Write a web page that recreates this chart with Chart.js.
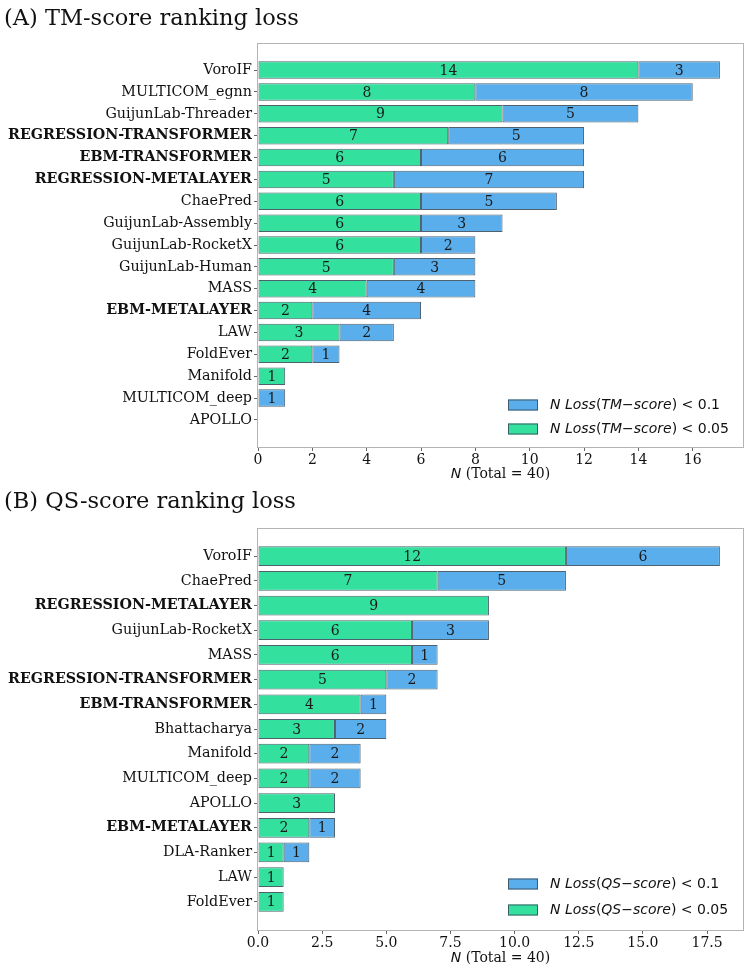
<!DOCTYPE html>
<html><head><meta charset="utf-8">
<script src="https://cdn.jsdelivr.net/npm/chart.js@4.4.0/dist/chart.umd.min.js"></script>
<style>html,body{margin:0;padding:0;background:#fff;width:749px;height:970px;overflow:hidden}canvas{display:block}</style>
</head><body>
<canvas id="c1" width="749" height="484"></canvas>
<canvas id="c2" width="749" height="486"></canvas>
<script>
const methodsTM = ['VoroIF','MULTICOM_egnn','GuijunLab-Threader','REGRESSION-TRANSFORMER','EBM-TRANSFORMER','REGRESSION-METALAYER','ChaePred','GuijunLab-Assembly','GuijunLab-RocketX','GuijunLab-Human','MASS','EBM-METALAYER','LAW','FoldEver','Manifold','MULTICOM_deep','APOLLO'];
const tmLossBelow005 = [14,8,9,7,6,5,6,6,6,5,4,2,3,2,1,0,0];
const tmLossBelow01Extra = [3,8,5,5,6,7,5,3,2,3,4,4,2,1,0,1,0];

const methodsQS = ['VoroIF','ChaePred','REGRESSION-METALAYER','GuijunLab-RocketX','MASS','REGRESSION-TRANSFORMER','EBM-TRANSFORMER','Bhattacharya','Manifold','MULTICOM_deep','APOLLO','EBM-METALAYER','DLA-Ranker','LAW','FoldEver'];
const qsLossBelow005 = [12,7,9,6,6,5,4,3,2,2,3,2,1,1,1];
const qsLossBelow01Extra = [6,5,0,3,1,2,1,2,2,2,0,1,1,0,0];

const xTicksTM = [0,2,4,6,8,10,12,14,16];
const xTicksQS = [0,2.5,5,7.5,10,12.5,15,17.5];
const highlighted = ['REGRESSION-TRANSFORMER','EBM-TRANSFORMER','REGRESSION-METALAYER','EBM-METALAYER'];

const GREEN = 'rgb(52,224,158)';
const BLUE = 'rgb(90,174,235)';
const EDGE = 'rgba(60,80,95,0.9)';
const SERIF = '"DejaVu Serif", serif';
const SANS = '"DejaVu Sans", sans-serif';

function drawSegments(ctx, segs, x, y, size) {
  let cx = x;
  for (const [t, italic] of segs) {
    ctx.font = (italic ? 'italic ' : '') + size + 'px ' + SANS;
    ctx.fillText(t, cx, y);
    cx += ctx.measureText(t).width;
  }
}

function makeChart(canvasId, cfg) {
  const names = cfg.names;
  const n = names.length;
  const yMin = -0.4 - 0.05 * (n - 1 + 0.8);
  const yMax = (n - 1) + 0.4 + 0.05 * (n - 1 + 0.8);
  const plugin = {
    id: 'extras',
    afterDatasetsDraw(chart) {
      const ctx = chart.ctx;
      ctx.save();
      ctx.font = '14px ' + SERIF;
      ctx.fillStyle = '#1a1a1a';
      ctx.textAlign = 'center';
      ctx.textBaseline = 'middle';
      chart.data.datasets.forEach((ds, di) => {
        const meta = chart.getDatasetMeta(di);
        meta.data.forEach((el, i) => {
          const v = ds.data[i].x;
          if (v > 0) ctx.fillText(String(v), (el.x + el.base) / 2, el.y + 1);
        });
      });
      ctx.restore();
    },
    afterDraw(chart) {
      const ctx = chart.ctx;
      const a = chart.chartArea;
      ctx.save();
      // frame
      ctx.strokeStyle = '#b4b4b4';
      ctx.lineWidth = 1;
      ctx.strokeRect(Math.round(a.left) - 0.5, Math.round(a.top) + 0.5, Math.round(a.right - a.left) + 1, Math.round(a.bottom - a.top));
      // title
      ctx.fillStyle = '#111';
      ctx.textAlign = 'left';
      ctx.textBaseline = 'alphabetic';
      ctx.font = '22.5px ' + SERIF;
      ctx.fillText(cfg.title, 4, cfg.titleY);
      // x label
      ctx.textBaseline = 'middle';
      ctx.font = 'italic 14px ' + SANS;
      const w1 = ctx.measureText('N').width;
      ctx.font = '14px ' + SERIF;
      const rest = ' (Total = 40)';
      const w2 = ctx.measureText(rest).width;
      const cx = (a.left + a.right) / 2 - (w1 + w2) / 2;
      const ly = a.bottom + cfg.xLabelOff;
      ctx.font = 'italic 14px ' + SANS;
      ctx.fillText('N', cx, ly);
      ctx.font = '14px ' + SERIF;
      ctx.fillText(rest, cx + w1, ly);
      // legend
      const items = [
        {color: BLUE, segs: [['N Loss', true], ['(', false], [cfg.scoreA, true], ['\u2212', false], ['score', true], [') < 0.1', false]]},
        {color: GREEN, segs: [['N Loss', true], ['(', false], [cfg.scoreA, true], ['\u2212', false], ['score', true], [') < 0.05', false]]}
      ];
      items.forEach((it, k) => {
        const y = a.bottom - cfg.legendOffsets[k];
        ctx.fillStyle = it.color;
        ctx.fillRect(a.right - 235, y - 5.5, 30, 11);
        ctx.strokeStyle = EDGE;
        ctx.strokeRect(a.right - 235 + 0.5, y - 5.5 + 0.5, 29, 10);
        ctx.fillStyle = '#111';
        drawSegments(ctx, it.segs, a.right - 193, y, 14);
      });
      ctx.restore();
    }
  };
  return new Chart(document.getElementById(canvasId), {
    type: 'bar',
    data: {
      datasets: [
        {label: 'N Loss(' + cfg.scoreA + '-score) < 0.05', data: names.map((_, i) => ({x: cfg.green[i], y: i})), backgroundColor: GREEN},
        {label: 'N Loss(' + cfg.scoreA + '-score) < 0.1', data: names.map((_, i) => ({x: cfg.blue[i], y: i})), backgroundColor: BLUE}
      ]
    },
    options: {
      indexAxis: 'y',
      responsive: false,
      animation: false,
      events: [],
      layout: {padding: {top: cfg.padTop, right: 6, bottom: 0, left: 0}},
      datasets: {bar: {categoryPercentage: 1, barPercentage: 0.8, borderColor: EDGE, borderSkipped: false,
        borderWidth: (c) => (c.raw && c.raw.x === 0 ? 0 : 1)}},
      plugins: {legend: {display: false}, title: {display: false}, tooltip: {enabled: false}},
      scales: {
        x: {
          type: 'linear', min: 0, max: cfg.xMax, stacked: true, offset: false,
          afterBuildTicks: (s) => { s.ticks = cfg.xTicks.map(v => ({value: v})); },
          afterFit: (s) => { s.height = cfg.xAxisH; },
          grid: {drawOnChartArea: false, tickLength: 4, color: '#666', offset: false},
          border: {display: false},
          ticks: {callback: (v) => cfg.decimals ? v.toFixed(1) : String(v), font: {family: SERIF, size: 14}, color: '#111', padding: 1, maxRotation: 0, autoSkip: false}
        },
        y: {
          type: 'linear', reverse: true, min: yMin, max: yMax, stacked: true, offset: false,
          afterBuildTicks: (s) => { s.ticks = names.map((_, i) => ({value: i})); },
          afterFit: (s) => { s.width = 258; },
          grid: {drawOnChartArea: false, tickLength: 4, color: '#666', offset: false},
          border: {display: false},
          ticks: {
            callback: (v) => names[v],
            font: (c) => ({family: SERIF, size: 14.3, weight: (c.tick && highlighted.includes(names[c.tick.value])) ? 'bold' : 'normal'}),
            color: '#111', padding: 2, autoSkip: false
          }
        }
      }
    },
    plugins: [plugin]
  });
}

makeChart('c1', {title: '(A) TM-score ranking loss', titleY: 25, names: methodsTM, green: tmLossBelow005, blue: tmLossBelow01Extra,
  xTicks: xTicksTM, xMax: 17.85, decimals: false, scoreA: 'TM', padTop: 43, xAxisH: 37, legendOffsets: [42, 18], xLabelOff: 27});
makeChart('c2', {title: '(B) QS-score ranking loss', titleY: 24, names: methodsQS, green: qsLossBelow005, blue: qsLossBelow01Extra,
  xTicks: xTicksQS, xMax: 18.9, decimals: true, scoreA: 'QS', padTop: 44, xAxisH: 40, legendOffsets: [46, 20], xLabelOff: 28});
</script>
</body></html>
